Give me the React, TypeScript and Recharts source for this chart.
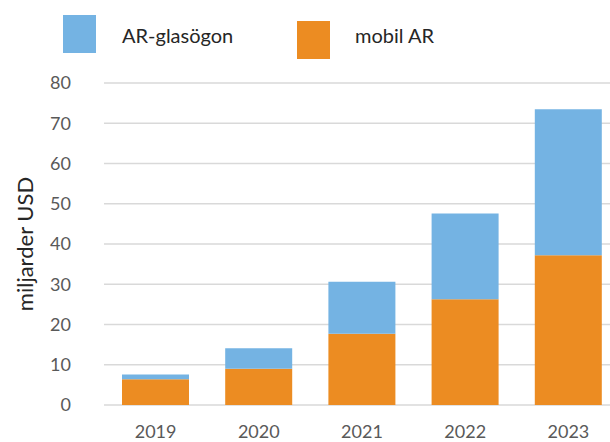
import React from "react";
import { Bar, BarChart, CartesianGrid, Label, XAxis, YAxis } from "recharts";

const YEARS = ["2019", "2020", "2021", "2022", "2023"];
const MOBILE_AR = [6.4, 9.0, 17.7, 26.3, 37.2];
const AR_GLASSES = [1.2, 5.1, 12.9, 21.3, 36.3];
const Y_TICKS = [0, 10, 20, 30, 40, 50, 60, 70, 80];

const BLUE = "#74b3e3";
const ORANGE = "#ec8c22";
const FONT = "Lato, 'Open Sans', sans-serif";

const data = YEARS.map((year, i) => ({
  year,
  mobil: MOBILE_AR[i],
  glas: AR_GLASSES[i],
}));

export default function App() {
  return (
    <div
      style={{
        position: "absolute",
        left: 0,
        top: 0,
        width: 610,
        height: 442,
        overflow: "hidden",
        background: "#fff",
        fontFamily: FONT,
      }}
    >
      {/* legend, drawn by hand */}
      <div style={{ position: "absolute", left: 63, top: 15, width: 33, height: 38, background: BLUE }} />
      <div style={{ position: "absolute", left: 122, top: 21, fontSize: 20, color: "#262626", lineHeight: "28px" }}>
        AR-glasögon
      </div>
      <div style={{ position: "absolute", left: 297, top: 21, width: 33, height: 38, background: ORANGE }} />
      <div style={{ position: "absolute", left: 355, top: 21, fontSize: 20, color: "#262626", lineHeight: "28px" }}>
        mobil AR
      </div>

      <div style={{ position: "absolute", left: 0, top: 0 }}>
        <BarChart
          width={620}
          height={442}
          data={data}
          margin={{ top: 83, right: 0, left: 0, bottom: 0 }}
          barCategoryGap={18}
        >
          <CartesianGrid vertical={false} stroke="#d9d9d9" strokeWidth={1.5} />
          <XAxis
            dataKey="year"
            axisLine={false}
            tickLine={false}
            height={37}
            tickMargin={20}
            tickSize={0}
            tick={{ fill: "#595959", fontSize: 18, fontFamily: FONT }}
          />
          <YAxis
            domain={[0, 80]}
            ticks={Y_TICKS}
            axisLine={false}
            tickLine={false}
            width={104}
            tickSize={0}
            tickMargin={33}
            tick={{ fill: "#595959", fontSize: 18, fontFamily: FONT }}
          >
            <Label
              value="miljarder USD"
              angle={-90}
              position="insideLeft"
              offset={25}
              style={{ textAnchor: "middle", fill: "#262626", fontSize: 22, fontFamily: FONT }}
            />
          </YAxis>
          <Bar dataKey="mobil" stackId="a" fill={ORANGE} isAnimationActive={false} />
          <Bar dataKey="glas" stackId="a" fill={BLUE} isAnimationActive={false} />
        </BarChart>
      </div>
    </div>
  );
}
